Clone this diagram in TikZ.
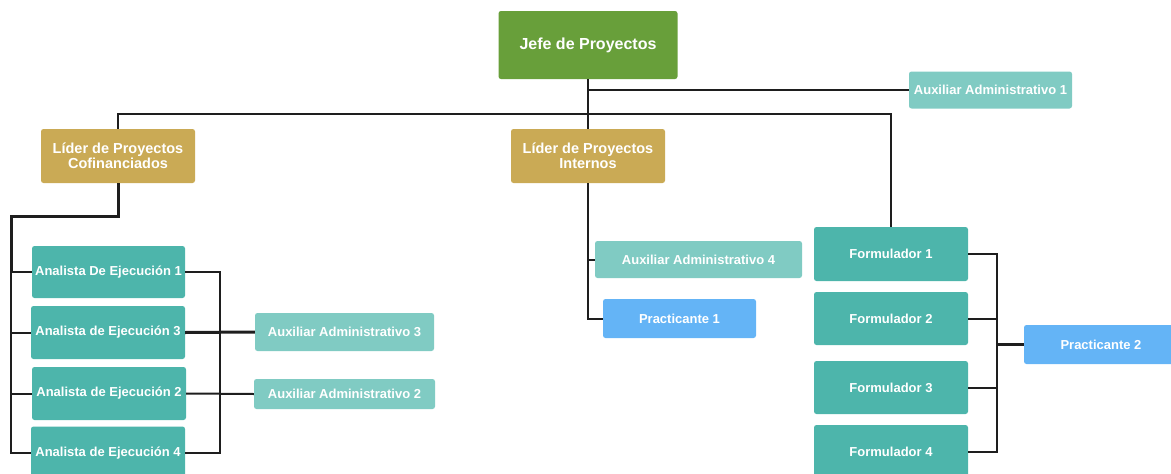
\documentclass[tikz,border=0pt]{standalone}
\usepackage{fontspec}
\setmainfont{Liberation Sans}
\definecolor{cgreen}{HTML}{689F3A}
\definecolor{cgold}{HTML}{CAAA55}
\definecolor{cteal}{HTML}{4DB5AB}
\definecolor{clteal}{HTML}{80CBC3}
\definecolor{cblue}{HTML}{64B4F6}
\definecolor{cline}{HTML}{1E1E1E}
\tikzset{
  box/.style={rounded corners=2.5pt, draw=none, text=white, font=\bfseries\fontsize{13}{14}\selectfont, inner sep=0pt, align=center},
  lider/.style={box, fill=cgold, minimum width=154pt, minimum height=54pt, font=\bfseries\fontsize{14.5}{15}\selectfont},
  conn/.style={draw=cline, line width=2pt},
  thick conn/.style={draw=cline, line width=3pt},
}
\begin{document}
\begin{tikzpicture}[x=1pt,y=-1pt]
\useasboundingbox (0,0) rectangle (1171,474);
\begin{scope}
\clip (0,0) rectangle (1171,474);
% nodes
\node[box, fill=cgreen, minimum width=179pt, minimum height=68pt, font=\bfseries\fontsize{16}{18}\selectfont] (jefe) at (588,45) {Jefe de Proyectos};
\node[box, fill=clteal, minimum width=163pt, minimum height=37pt] (aux1) at (990.5,90) {Auxiliar Administrativo 1};
\node[lider] (lpc) at (118,156) {Líder de Proyectos\\Cofinanciados};
\node[lider] (lpi) at (588,156) {Líder de Proyectos\\Internos};
\node[box, fill=cteal, minimum width=153pt, minimum height=52pt] (a1) at (108.5,272) {Analista De Ejecución 1};
\node[box, fill=cteal, minimum width=154pt, minimum height=53pt] (a3) at (108,332.5) {Analista de Ejecución 3};
\node[box, fill=cteal, minimum width=154pt, minimum height=53pt] (a2) at (109,393.5) {Analista de Ejecución 2};
\node[box, fill=cteal, minimum width=154pt, minimum height=53pt] (a4) at (108,453) {Analista de Ejecución 4};
\node[box, fill=clteal, minimum width=179pt, minimum height=38pt] (aux3) at (344.5,332) {Auxiliar Administrativo 3};
\node[box, fill=clteal, minimum width=181pt, minimum height=30pt] (aux2) at (344.5,394) {Auxiliar Administrativo 2};
\node[box, fill=clteal, minimum width=207pt, minimum height=37pt] (aux4) at (698.5,259.5) {Auxiliar Administrativo 4};
\node[box, fill=cblue, minimum width=153pt, minimum height=39pt] (p1) at (679.5,318.5) {Practicante 1};
\node[box, fill=cteal, minimum width=154pt, minimum height=54pt] (f1) at (891,254) {Formulador 1};
\node[box, fill=cteal, minimum width=154pt, minimum height=53pt] (f2) at (891,318.5) {Formulador 2};
\node[box, fill=cteal, minimum width=154pt, minimum height=53pt] (f3) at (891,387.5) {Formulador 3};
\node[box, fill=cteal, minimum width=154pt, minimum height=54pt] (f4) at (891,452) {Formulador 4};
\node[box, fill=cblue, minimum width=154pt, minimum height=39pt] (p2) at (1101,344.5) {Practicante 2};
% coordinates
\coordinate (bus) at (588,114);
\coordinate (lpcc) at (11,216);
\end{scope}
% connectors
\draw[conn] (jefe.south) -- (lpi.north);
\draw[conn] (jefe.south |- aux1.west) -- (aux1.west);
\draw[conn] (lpc.north) -- (lpc.north |- bus) -- (f1.north |- bus) -- (f1.north);
\draw[thick conn] (lpc.south) -- (lpc.south |- lpcc) -- (lpcc) -- (lpcc |- a1.west);
\draw[conn] (lpcc |- a1.west) -- (lpcc |- a4.west) -- (a4.west);
\draw[conn] (lpcc |- a1.west) -- (a1.west);
\draw[conn] (lpcc |- a3.west) -- (a3.west);
\draw[conn] (lpcc |- a2.west) -- (a2.west);
\coordinate (rb) at (220,272);
\draw[conn] (a1.east) -- (rb) -- (rb |- a4.east) -- (a4.east);
\draw[thick conn] (a3.east) -- (aux3.west);
\draw[conn] (a2.east) -- (aux2.west);
\draw[conn] (lpi.south) -- (lpi.south |- p1.west) -- (p1.west);
\draw[conn] (lpi.south |- aux4.west) -- (aux4.west);
\coordinate (fb) at (997,254);
\draw[conn] (f1.east) -- (fb) -- (fb |- f4.east) -- (f4.east);
\draw[conn] (f2.east) -- (fb |- f2.east);
\draw[conn] (f3.east) -- (fb |- f3.east);
\draw[thick conn] (fb |- p2.west) -- (p2.west);
\end{tikzpicture}
\end{document}
